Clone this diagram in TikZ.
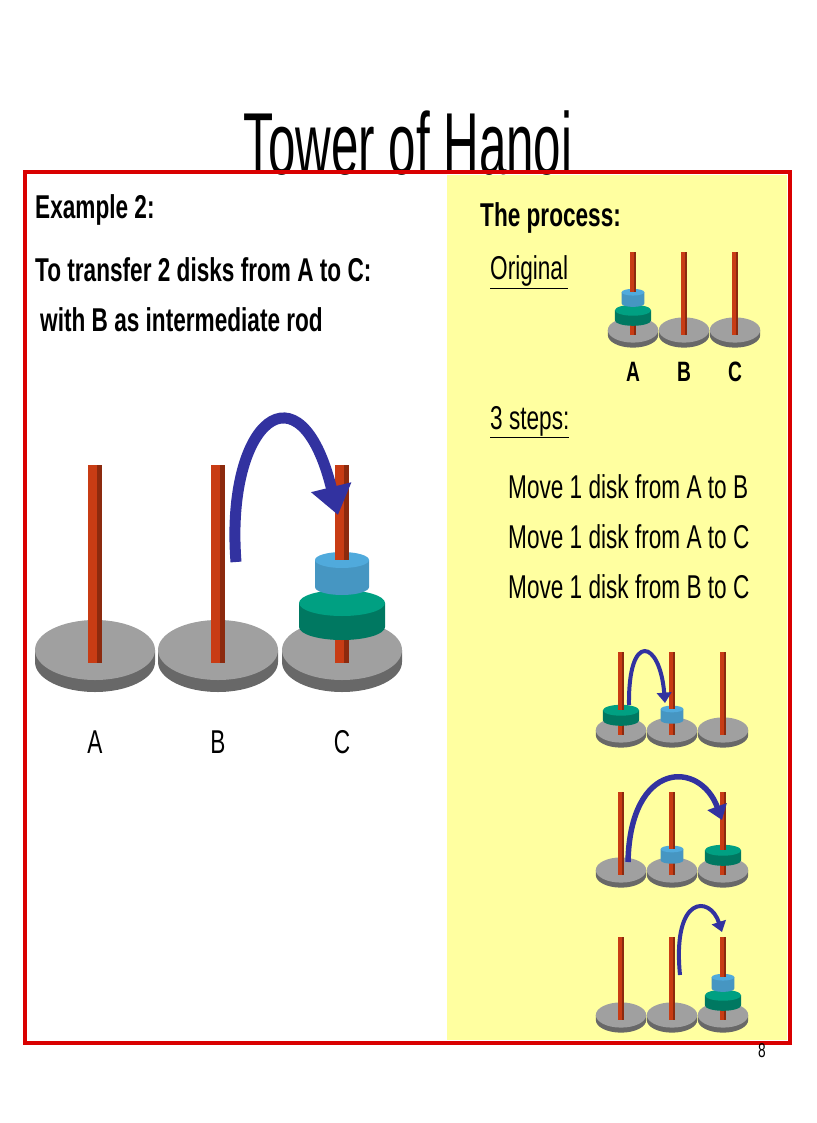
\documentclass[tikz,border=0pt]{standalone}
\usepackage{fontspec}
\setmainfont{Liberation Sans}
\newfontfamily\cond[FakeStretch=0.685]{Liberation Sans}
\newfontfamily\tcond[FakeStretch=0.56]{Liberation Sans}
\usetikzlibrary{arrows.meta}
\definecolor{rodc}{RGB}{200,60,20}
\definecolor{basec}{RGB}{160,160,160}
\definecolor{grn}{RGB}{0,160,130}
\definecolor{blu}{RGB}{80,170,220}
\definecolor{yel}{RGB}{255,255,160}
\definecolor{arr}{RGB}{50,50,160}
\tikzset{txt/.style={anchor=west,inner sep=0pt,font=\cond\fontsize{33}{36}\selectfont},
 btxt/.style={txt,font=\cond\bfseries\fontsize{33}{36}\selectfont},
 bigarrow/.style={arr,line width=#1,-{Triangle[length=2.6*#1,width=3.6*#1]}}}
% local coordinates: base centre at (0,0), y downward
\newcommand\pegbase{%
 \fill[basec!65!black] (-60,0) -- (-60,12) arc[start angle=180,end angle=0,x radius=60,y radius=30] -- (60,0) -- cycle;
 \fill[basec] (0,0) ellipse[x radius=60,y radius=30];}
\newcommand\rod[1]{\fill[rodc] (-7,-185) rectangle (7,#1);\fill[rodc!70!black] (2,-185) rectangle (7,#1);}
\newcommand\disk[6]{% bottom, top, rx, ry, colour, side shade
 \fill[#5!#6!black] (-#3,#2) -- (-#3,#1) arc[start angle=180,end angle=0,x radius=#3,y radius=#4] -- (#3,#2) -- cycle;
 \fill[#5] (0,#2) ellipse[x radius=#3,y radius=#4];}
\newcommand\gd{\disk{-23}{-47}{43}{13}{grn}{75}}
\newcommand\bdtop{\disk{-63}{-90}{27}{8}{blu}{88}}
\newcommand\bdlow{\disk{-23}{-50}{27}{8}{blu}{88}}
\begin{document}
\begin{tikzpicture}[x=1pt,y=-1pt]
\useasboundingbox (0,0) rectangle (816,1123);
\fill[yel] (447,175) rectangle (787,1040);
\node[inner sep=0pt,font=\tcond\fontsize{88}{90}\selectfont] (title) at (408,143) {Tower of Hanoi};
\draw[red!85!black,line width=4] (25,172) rectangle (790,1043);
\node[btxt] (ex) at (35,210) {Example 2:};
\node[btxt] (l1) at (35,270) {To transfer 2 disks from A to C:};
\node[btxt] (l2) at (40,320) {with B as intermediate rod};
% big towers
\begin{scope}[shift={(95,650)}]\pegbase\rod{13}\end{scope}
\begin{scope}[shift={(218,650)}]\pegbase\rod{13}\end{scope}
\begin{scope}[shift={(342,650)}]\pegbase\rod{13}\gd\bdtop\rod{-90}\end{scope}
\node[txt,anchor=center] (la) at (95,742) {A};
\node[txt,anchor=center] (lb) at (218,742) {B};
\node[txt,anchor=center] (lc) at (342,742) {C};
\coordinate (a1) at (236,562);
\coordinate (a2) at (338,515);
\draw[bigarrow=11] (a1) .. controls (225,420) and (300,360) .. (a2);
% right panel
\node[btxt] (proc) at (480,218) {The process:};
\node[txt] (orig) at (490,272) {\underline{Original}};
\begin{scope}[shift={(633,330)},scale=0.42]\pegbase\rod{13}\gd\bdtop\rod{-90}\end{scope}
\begin{scope}[shift={(684,330)},scale=0.42]\pegbase\rod{13}\end{scope}
\begin{scope}[shift={(735,330)},scale=0.42]\pegbase\rod{13}\end{scope}
\node[btxt,anchor=center,font=\cond\bfseries\fontsize{28}{30}\selectfont] (sa) at (633,372) {A};
\node[btxt,anchor=center,font=\cond\bfseries\fontsize{28}{30}\selectfont] (sb) at (684,372) {B};
\node[btxt,anchor=center,font=\cond\bfseries\fontsize{28}{30}\selectfont] (sc) at (735,372) {C};
\node[txt] (steps) at (490,422) {\underline{3 steps:}};
\node[txt] (m1) at (508,487) {Move 1 disk from A to B};
\node[txt] (m2) at (508,537) {Move 1 disk from A to C};
\node[txt] (m3) at (508,587) {Move 1 disk from B to C};
% step 1
\begin{scope}[shift={(621,730)},scale=0.42]\pegbase\rod{13}\gd\rod{-47}\end{scope}
\begin{scope}[shift={(672,730)},scale=0.42]\pegbase\rod{13}\bdlow\rod{-50}\end{scope}
\begin{scope}[shift={(723,730)},scale=0.42]\pegbase\rod{13}\end{scope}
\coordinate (s1a) at (629,705);
\coordinate (s1b) at (665,703);
\draw[bigarrow=4] (s1a) .. controls (628,630) and (660,640) .. (s1b);
% step 2
\begin{scope}[shift={(621,870)},scale=0.42]\pegbase\rod{13}\end{scope}
\begin{scope}[shift={(672,870)},scale=0.42]\pegbase\rod{13}\bdlow\rod{-50}\end{scope}
\begin{scope}[shift={(723,870)},scale=0.42]\pegbase\rod{13}\gd\rod{-47}\end{scope}
\coordinate (s2a) at (628,862);
\coordinate (s2b) at (722,820);
\draw[bigarrow=5.5] (s2a) .. controls (630,760) and (700,760) .. (s2b);
% step 3
\begin{scope}[shift={(621,1015)},scale=0.42]\pegbase\rod{13}\end{scope}
\begin{scope}[shift={(672,1015)},scale=0.42]\pegbase\rod{13}\end{scope}
\begin{scope}[shift={(723,1015)},scale=0.42]\pegbase\rod{13}\gd\bdtop\rod{-90}\end{scope}
\coordinate (s3a) at (680,975);
\coordinate (s3b) at (722,932);
\draw[bigarrow=4] (s3a) .. controls (672,895) and (710,895) .. (s3b);
\node[txt,anchor=center,font=\cond\fontsize{20}{22}\selectfont] (pg) at (762,1051) {8};
\end{tikzpicture}
\end{document}
